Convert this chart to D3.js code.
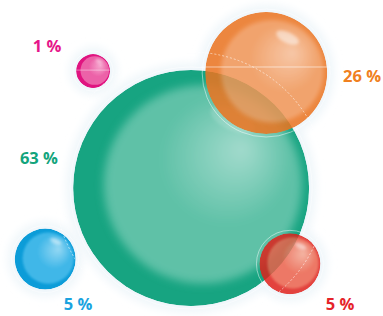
<!DOCTYPE html>
<html>
  <head>
    <meta charset="utf-8">
    <style>
      body { margin: 0; background: #fff; }
      svg { display: block; }
      text { font-family: "Open Sans", "Noto Sans", sans-serif; font-weight: 700; }
    </style>
  </head>
  <body>
    <div id="chart"></div>
    <script src="https://cdn.jsdelivr.net/npm/d3@7/dist/d3.min.js"></script>
    <script>
    // data
    var categories = ["pink", "orange", "teal", "blue", "red"];
    var values = [1, 26, 63, 5, 5];
    var labels = ["1 %", "26 %", "63 %", "5 %", "5 %"];

    var width = 383, height = 316;

    // layout (unit coords) for bubble centres and labels
    var layout = {
      pink:   {cx: 0.243, cy: 0.225, lx: 0.123, ly: 0.163, anchor: "middle"},
      orange: {cx: 0.695, cy: 0.231, lx: 0.995, ly: 0.258, anchor: "end"},
      teal:   {cx: 0.499, cy: 0.595, lx: 0.052, ly: 0.52, anchor: "start"},
      blue:   {cx: 0.118, cy: 0.82,  lx: 0.204, ly: 0.982, anchor: "middle"},
      red:    {cx: 0.757, cy: 0.835, lx: 0.888, ly: 0.982, anchor: "middle"}
    };
    var colours = {
      pink:   {rim: "#e01480", mid: "#ec62a8", core: "#f6a8cf", text: "#e6168a", op: 1},
      orange: {rim: "#ec7420", mid: "#f29656", core: "#f8c09a", text: "#f08020", op: 0.86},
      teal:   {rim: "#17a481", mid: "#5fc1a7", core: "#a3dbcd", text: "#13a47c", op: 1},
      blue:   {rim: "#0c9cd8", mid: "#40b7e8", core: "#95d8f4", text: "#1aa3df", op: 1},
      red:    {rim: "#e0201a", mid: "#ec6048", core: "#f5a892", text: "#e5242a", op: 0.84}
    };

    var x = d3.scaleLinear().domain([0, 1]).range([0, width]);
    var y = d3.scaleLinear().domain([0, 1]).range([0, height]);
    var r = d3.scaleLinear().domain([1, 5, 26, 63]).range([17, 30.5, 61, 118]);

    var data = categories.map(function(c, i) {
      return {key: c, value: values[i], label: labels[i], pos: layout[c], col: colours[c]};
    });

    var svg = d3.select("#chart").append("svg")
        .attr("width", width).attr("height", height);
    var defs = svg.append("defs");

    defs.append("filter").attr("id", "blur").attr("x", "-50%").attr("y", "-50%")
        .attr("width", "200%").attr("height", "200%")
      .append("feGaussianBlur").attr("stdDeviation", 4);
    defs.append("filter").attr("id", "soft").attr("x", "-50%").attr("y", "-50%")
        .attr("width", "200%").attr("height", "200%")
      .append("feGaussianBlur").attr("stdDeviation", 1.5);

    data.forEach(function(d) {
      var g = defs.append("radialGradient").attr("id", "g-" + d.key)
          .attr("cx", "55%").attr("cy", "42%").attr("r", "60%")
          .attr("fx", "70%").attr("fy", "32%");
      g.append("stop").attr("offset", "0%").attr("stop-color", d.col.core);
      g.append("stop").attr("offset", "55%").attr("stop-color", d.col.mid);
      g.append("stop").attr("offset", "100%").attr("stop-color", d.col.mid);
      defs.append("filter").attr("id", "f-" + d.key).attr("x", "-30%").attr("y", "-30%")
          .attr("width", "160%").attr("height", "160%")
        .append("feGaussianBlur").attr("stdDeviation", r(d.value) * 0.035);
      defs.append("clipPath").attr("id", "c-" + d.key)
        .append("circle").attr("r", r(d.value));
    });

    // draw order
    var order = ["pink", "blue", "teal", "orange", "red"];
    var sorted = order.map(function(k) { return data.find(function(d) { return d.key === k; }); });

    // halos
    svg.append("g").selectAll("circle").data(sorted).join("circle")
        .attr("cx", function(d) { return x(d.pos.cx); })
        .attr("cy", function(d) { return y(d.pos.cy); })
        .attr("r", function(d) { return r(d.value) + 7; })
        .attr("fill", "#eff6fa")
        .attr("filter", "url(#blur)");

    var bubbles = svg.append("g").selectAll("g").data(sorted).join("g")
        .attr("transform", function(d) { return "translate(" + x(d.pos.cx) + "," + y(d.pos.cy) + ")"; });

    bubbles.append("circle")
        .attr("r", function(d) { return r(d.value) + 3; })
        .attr("fill", "none")
        .attr("stroke", "#fff")
        .attr("stroke-opacity", 0.6)
        .attr("stroke-width", 0.8);

    var body = bubbles.append("g")
        .attr("opacity", function(d) { return d.col.op; })
        .attr("clip-path", function(d) { return "url(#c-" + d.key + ")"; });

    body.append("circle")
        .attr("r", function(d) { return r(d.value); })
        .attr("fill", function(d) { return d.col.rim; });

    // lighter inner lens, offset up-right
    body.append("circle")
        .attr("cx", function(d) { return r(d.value) * 0.1; })
        .attr("cy", function(d) { return -r(d.value) * 0.03; })
        .attr("r", function(d) { return r(d.value) * 0.84; })
        .attr("fill", function(d) { return "url(#g-" + d.key + ")"; })
        .attr("filter", function(d) { return "url(#f-" + d.key + ")"; });

    // glossy highlight
    body.append("ellipse")
        .attr("cx", function(d) { return r(d.value) * 0.35; })
        .attr("cy", function(d) { return -r(d.value) * 0.58; })
        .attr("rx", function(d) { return r(d.value) * 0.2; })
        .attr("ry", function(d) { return r(d.value) * 0.09; })
        .attr("transform", function(d) { return "rotate(25," + r(d.value) * 0.35 + "," + (-r(d.value) * 0.58) + ")"; })
        .attr("fill", "#fff")
        .attr("fill-opacity", function(d) { return d.key === "teal" ? 0.15 : 0.5; })
        .attr("filter", "url(#soft)");

    // thin decorative lines
    var teal = data[2], orange = data[1], pink = data[0];
    svg.append("circle")
        .attr("cx", x(teal.pos.cx)).attr("cy", y(teal.pos.cy))
        .attr("r", r(teal.value) + 18)
        .attr("fill", "none")
        .attr("stroke", "#fff")
        .attr("stroke-opacity", 0.7)
        .attr("stroke-width", 0.8)
        .attr("stroke-dasharray", "2,2");

    svg.append("line")
        .attr("x1", x(orange.pos.cx) - r(orange.value) - 4)
        .attr("x2", x(orange.pos.cx) + r(orange.value) + 4)
        .attr("y1", y(orange.pos.cy) - 6).attr("y2", y(orange.pos.cy) - 6)
        .attr("stroke", "#fff").attr("stroke-opacity", 0.7).attr("stroke-width", 0.8);

    svg.append("line")
        .attr("x1", x(pink.pos.cx) - r(pink.value))
        .attr("x2", x(pink.pos.cx) + r(pink.value))
        .attr("y1", y(pink.pos.cy) - 1).attr("y2", y(pink.pos.cy) - 1)
        .attr("stroke", "#fff").attr("stroke-opacity", 0.6).attr("stroke-width", 0.7);

    // labels
    svg.append("g").selectAll("text").data(data).join("text")
        .attr("x", function(d) { return x(d.pos.lx); })
        .attr("y", function(d) { return y(d.pos.ly); })
        .attr("text-anchor", function(d) { return d.pos.anchor; })
        .attr("font-size", 16.5)
        .attr("fill", function(d) { return d.col.text; })
        .text(function(d) { return d.label; });
    </script>
  </body>
</html>
